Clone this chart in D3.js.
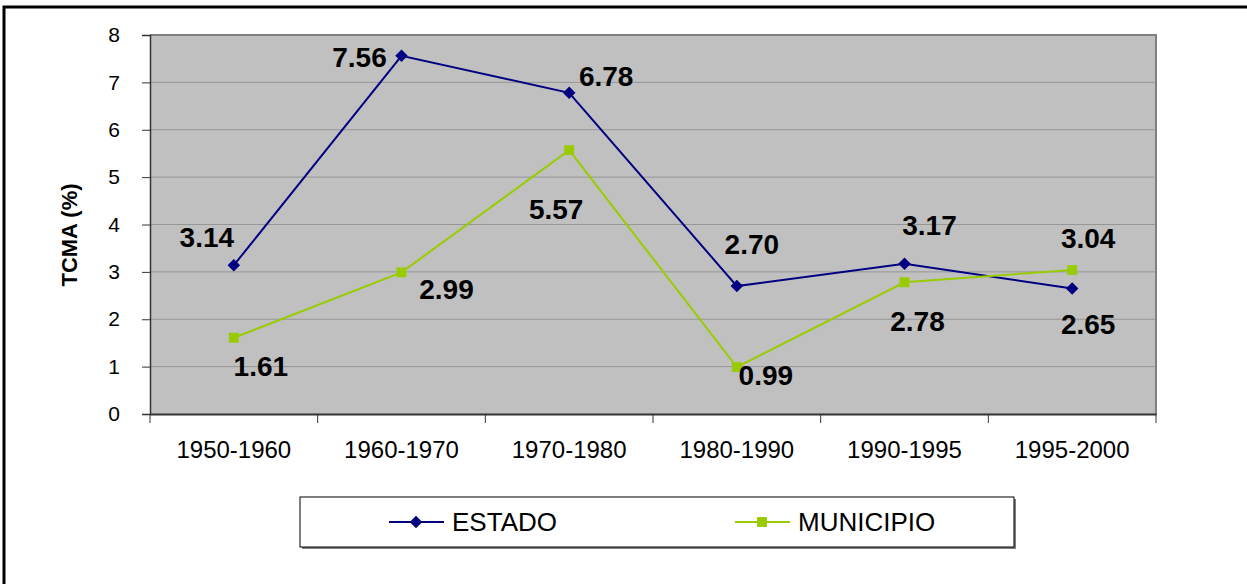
<!DOCTYPE html>
<html>
<head>
<meta charset="utf-8">
<script src="https://cdn.jsdelivr.net/npm/d3@7"></script>
<style>
  body { margin: 0; background: #fff; }
  svg { display: block; font-family: Arial, "Liberation Sans", sans-serif; }
</style>
</head>
<body>
<svg id="chart" width="1247" height="584"></svg>
<script>
// periods on the x axis
const categories = ['1950-1960', '1960-1970', '1970-1980', '1980-1990', '1990-1995', '1995-2000'];
// TCMA (%) per period
const estado = [3.14, 7.56, 6.78, 2.70, 3.17, 2.65];
const municipio = [1.61, 2.99, 5.57, 0.99, 2.78, 3.04];
const yTicks = [0, 1, 2, 3, 4, 5, 6, 7, 8];

// label nudges, placed by hand like in the original sheet
const estadoLabelOffsets = [[-27, -18], [-42, 11], [37, -7], [15, -32], [25, -29], [16, 46]];
const municipioLabelOffsets = [[27, 38], [45, 27], [-13, 69], [29, 18], [13, 49], [16, -22]];

const series = [
  { name: 'ESTADO', values: estado, color: '#000080', symbol: d3.symbolDiamond2, size: 100, offsets: estadoLabelOffsets },
  { name: 'MUNICIPIO', values: municipio, color: '#99CC00', symbol: d3.symbolSquare2, size: 125, offsets: municipioLabelOffsets }
];

const svg = d3.select('#chart');
const plot = { left: 150, top: 35, right: 1156, bottom: 414 };

// outer frame
svg.append('rect')
  .attr('x', 4).attr('y', 7)
  .attr('width', 1300).attr('height', 700)
  .attr('fill', 'none').attr('stroke', '#000').attr('stroke-width', 3);

const x = d3.scaleBand().domain(categories).range([plot.left, plot.right]).padding(0);
const y = d3.scaleLinear().domain([0, 8]).range([plot.bottom, plot.top]);

// plot background
svg.append('rect')
  .attr('x', plot.left).attr('y', plot.top)
  .attr('width', plot.right - plot.left).attr('height', plot.bottom - plot.top)
  .attr('fill', '#C0C0C0');

// gridlines
svg.append('g')
  .selectAll('line')
  .data(yTicks.filter(t => t > 0 && t < 8))
  .join('line')
  .attr('x1', plot.left).attr('x2', plot.right)
  .attr('y1', d => y(d)).attr('y2', d => y(d))
  .attr('stroke', '#969696').attr('stroke-width', 1);

// top and right border of plot area
svg.append('path')
  .attr('d', `M${plot.left},${plot.top}H${plot.right}V${plot.bottom}`)
  .attr('fill', 'none').attr('stroke', '#808080').attr('stroke-width', 2);

// y axis
const yAxis = svg.append('g')
  .attr('transform', `translate(${plot.left},0)`)
  .call(d3.axisLeft(y).tickValues(yTicks).tickSize(8).tickPadding(22).tickFormat(d3.format('d')));
yAxis.select('.domain').attr('stroke', '#333').attr('stroke-width', 1.5);
yAxis.selectAll('.tick line').attr('stroke', '#333');
yAxis.selectAll('.tick text')
  .attr('font-size', 21).attr('fill', '#000')
  .attr('font-family', 'Arial, "Liberation Sans", sans-serif');

// x axis: ticks between categories
const xAxis = svg.append('g')
  .attr('transform', `translate(0,${plot.bottom})`)
  .call(d3.axisBottom(x).tickSize(0).tickPadding(27));
xAxis.select('.domain').attr('stroke', '#333').attr('stroke-width', 2);
xAxis.selectAll('.tick text')
  .attr('font-size', 24).attr('fill', '#000')
  .attr('font-family', 'Arial, "Liberation Sans", sans-serif');
xAxis.selectAll('.cat-tick')
  .data(categories.concat(['end']))
  .join('line')
  .attr('class', 'cat-tick')
  .attr('x1', (d, i) => i < categories.length ? x(d) : plot.right)
  .attr('x2', (d, i) => i < categories.length ? x(d) : plot.right)
  .attr('y1', 0).attr('y2', 9)
  .attr('stroke', '#333').attr('stroke-width', 1);

// y title
svg.append('text')
  .attr('transform', `translate(77,235) rotate(-90)`)
  .attr('text-anchor', 'middle')
  .attr('font-size', 22).attr('font-weight', 'bold')
  .text('TCMA (%)');

const cx = d => x(d) + x.bandwidth() / 2;

const line = d3.line()
  .x((d, i) => cx(categories[i]))
  .y(d => y(d));

series.forEach(s => {
  const g = svg.append('g');
  g.append('path')
    .datum(s.values)
    .attr('d', line)
    .attr('fill', 'none')
    .attr('stroke', s.color)
    .attr('stroke-width', 2);

  g.selectAll('path.marker')
    .data(s.values)
    .join('path')
    .attr('class', 'marker')
    .attr('transform', (d, i) => `translate(${cx(categories[i])},${y(d)})`)
    .attr('d', d3.symbol().type(s.symbol).size(s.size))
    .attr('fill', s.color);
});

// data labels drawn on top
series.forEach(s => {
  svg.append('g')
    .selectAll('text')
    .data(s.values)
    .join('text')
    .attr('x', (d, i) => cx(categories[i]) + s.offsets[i][0])
    .attr('y', (d, i) => y(d) + s.offsets[i][1])
    .attr('text-anchor', 'middle')
    .attr('font-size', 28).attr('font-weight', 'bold')
    .attr('fill', '#000')
    .text(d => d.toFixed(2));
});

// legend
const legend = svg.append('g');
legend.append('rect')
  .attr('x', 302).attr('y', 499).attr('width', 714).attr('height', 50)
  .attr('fill', '#808080');
legend.append('rect')
  .attr('x', 300).attr('y', 497).attr('width', 714).attr('height', 50)
  .attr('fill', '#fff').attr('stroke', '#000').attr('stroke-width', 1);

const legendX = [416, 762];
series.forEach((s, i) => {
  const lg = legend.append('g').attr('transform', `translate(${legendX[i]},522)`);
  lg.append('line')
    .attr('x1', -27).attr('x2', 28)
    .attr('stroke', s.color).attr('stroke-width', 2);
  lg.append('path')
    .attr('d', d3.symbol().type(s.symbol).size(s.size))
    .attr('fill', s.color);
  lg.append('text')
    .attr('x', 36).attr('y', 9)
    .attr('font-size', 26)
    .attr('fill', '#000')
    .text(s.name);
});
</script>
</body>
</html>
